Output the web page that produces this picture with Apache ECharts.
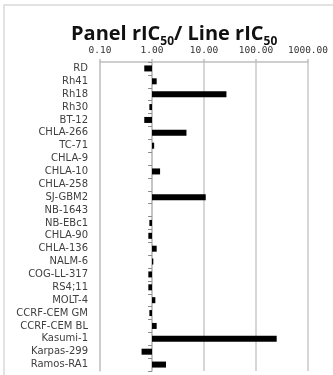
<!DOCTYPE html>
<html><head><meta charset="utf-8">
<script src="https://cdn.jsdelivr.net/npm/echarts@6/dist/echarts.min.js"></script>
<style>html,body{margin:0;padding:0;background:#fff}#c{width:333px;height:375px}</style>
</head><body><div id="c"></div>
<script>
const categories = ['RD','Rh41','Rh18','Rh30','BT-12','CHLA-266','TC-71','CHLA-9','CHLA-10','CHLA-258','SJ-GBM2','NB-1643','NB-EBc1','CHLA-90','CHLA-136','NALM-6','COG-LL-317','RS4;11','MOLT-4','CCRF-CEM GM','CCRF-CEM BL','Kasumi-1','Karpas-299','Ramos-RA1'];
const ratios = [0.71,1.23,27,0.89,0.71,4.6,1.1,1.0,1.43,1.0,10.8,1.0,0.89,0.85,1.23,1.06,0.85,0.85,1.16,0.89,1.23,250,0.63,1.86];
const xTicks = [0.1,1,10,100,1000];

const chart = echarts.init(document.getElementById('c'), null, {renderer:'canvas'});
const gridLeft = 100, gridWidth = 208;
chart.setOption({
  animation:false,
  title:{
    text:'{a|Panel rIC}{s|50}{a|/ Line rIC}{s|50}',
    left:66, top:19,
    textStyle:{rich:{
      a:{fontFamily:'Open Sans',fontWeight:'bold',fontSize:20,color:'#111',verticalAlign:'bottom'},
      s:{fontFamily:'Open Sans',fontWeight:'bold',fontSize:12,color:'#111',verticalAlign:'bottom',padding:[0,0,-4,0]}
    }}
  },
  graphic:[{type:'rect',shape:{x:4,y:5,width:340,height:380},style:{fill:'none',stroke:'#d9d9d9',lineWidth:1.5},z:-1}],
  grid:{left:gridLeft,top:62,width:gridWidth,height:309},
  xAxis:{type:'log',logBase:10,min:xTicks[0],max:xTicks[xTicks.length-1],position:'top',
    axisLine:{show:true,lineStyle:{color:'#bfbfbf',width:1.5}},
    axisTick:{show:true,length:3,lineStyle:{color:'#bfbfbf',width:1.5}},
    axisLabel:{fontFamily:'DejaVu Sans Mono',fontSize:9.5,color:'#333',margin:6,formatter:v=>Number(v).toFixed(2)},
    splitLine:{show:true,lineStyle:{color:'#c8c8c8',width:1.5}}},
  yAxis:[
    {type:'category',data:categories,inverse:true,
     axisLine:{show:true,lineStyle:{color:'#c8c8c8',width:1.5}},
     axisTick:{show:false},
     axisLabel:{interval:0,fontFamily:'DejaVu Sans',fontSize:10,color:'#404040',margin:12}},
    {type:'category',data:categories,inverse:true,position:'left',offset:-(gridWidth/4),
     axisLine:{show:true,lineStyle:{color:'#bfbfbf',width:1.5}},
     axisTick:{show:true,interval:0,length:4,lineStyle:{color:'#8c8c8c'}},
     axisLabel:{show:false}}
  ],
  series:[{type:'bar',data:ratios,barWidth:6,itemStyle:{color:'#000'},yAxisIndex:0}]
});
</script></body></html>
